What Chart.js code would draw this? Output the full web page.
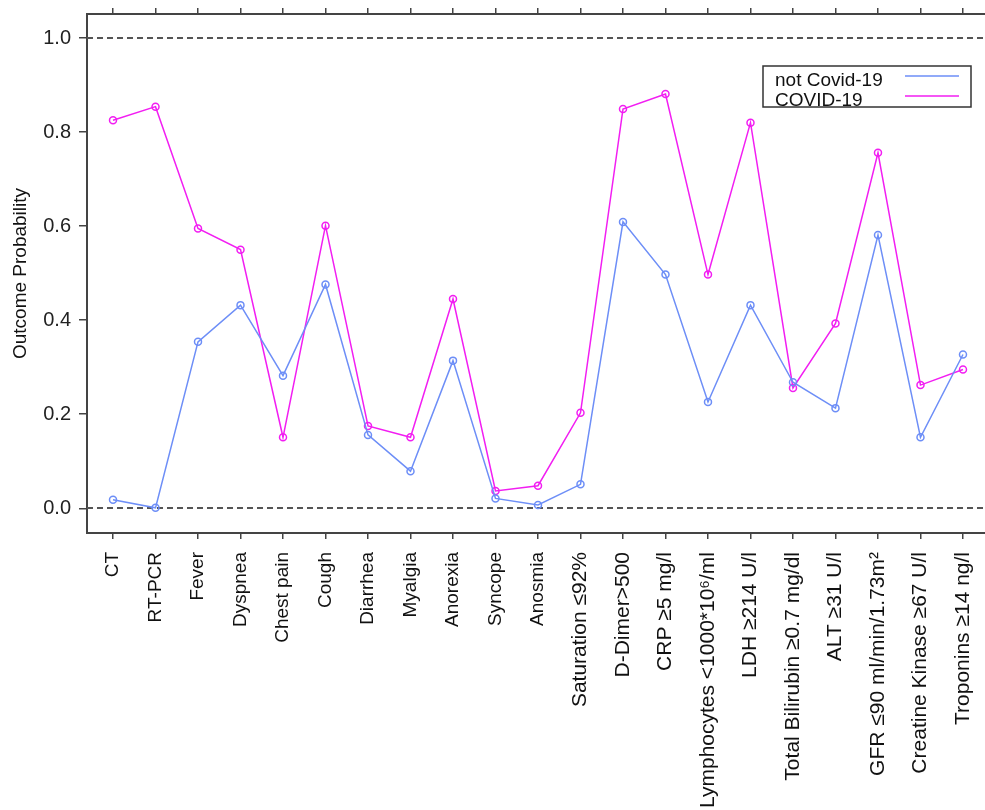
<!DOCTYPE html>
<html>
<head>
<meta charset="utf-8">
<script src="https://cdn.jsdelivr.net/npm/chart.js@4.4.1/dist/chart.umd.min.js"></script>
<style>
  body { margin: 0; background: #fff; }
  canvas { display: block; }
</style>
</head>
<body>
<canvas id="myChart" width="985" height="810"></canvas>
<script>
// kategori sumbu x
const categories = ['CT', 'RT-PCR', 'Fever', 'Dyspnea', 'Chest pain', 'Cough', 'Diarrhea', 'Myalgia',
    'Anorexia', 'Syncope', 'Anosmia', 'Saturation \u226492%', 'D-Dimer>500', 'CRP \u22655 mg/l',
    'Lymphocytes <1000*10\u2076/ml', 'LDH \u2265214 U/l', 'Total Bilirubin \u22650.7 mg/dl', 'ALT \u226531 U/l',
    'GFR \u226490 ml/min/1.73m\u00b2', 'Creatine Kinase \u226567 U/l', 'Troponins \u226514 ng/l'];

// nilai probabilitas
const notCovid = [0.018, 0.001, 0.354, 0.432, 0.282, 0.476, 0.156, 0.079, 0.314, 0.021, 0.007,
    0.051, 0.609, 0.497, 0.226, 0.432, 0.268, 0.213, 0.581, 0.151, 0.327];
const covid = [0.825, 0.854, 0.595, 0.550, 0.151, 0.601, 0.175, 0.151, 0.445, 0.037, 0.048,
    0.203, 0.849, 0.881, 0.497, 0.820, 0.256, 0.393, 0.756, 0.262, 0.295];

const yTicks = [0, 0.2, 0.4, 0.6, 0.8, 1.0];
const refLines = [0, 1];

const blue = '#6d8ef7';
const pink = '#f21ef2';
const frameColor = '#444';
const fontFamily = '"Liberation Sans", Arial, sans-serif';

// garis putus-putus di 0 dan 1
const refLinePlugin = {
    id: 'refLines',
    beforeDatasetsDraw(chart) {
        const { ctx, chartArea, scales } = chart;
        ctx.save();
        ctx.strokeStyle = '#555';
        ctx.lineWidth = 2;
        ctx.setLineDash([6, 4]);
        refLines.forEach(v => {
            const y = Math.round(scales.y.getPixelForValue(v));
            ctx.beginPath();
            ctx.moveTo(chartArea.left, y);
            ctx.lineTo(chartArea.right, y);
            ctx.stroke();
        });
        ctx.restore();
    }
};

// kotak legenda
const legendPlugin = {
    id: 'legendBox',
    afterDatasetsDraw(chart) {
        const { ctx } = chart;
        ctx.save();
        ctx.fillStyle = '#fff';
        ctx.fillRect(763, 66, 208, 41);
        ctx.strokeStyle = '#333';
        ctx.lineWidth = 1.5;
        ctx.strokeRect(763, 66, 208, 41);
        ctx.font = '19px ' + fontFamily;
        ctx.textBaseline = 'alphabetic';
        ctx.textAlign = 'left';
        chart.data.datasets.forEach((ds, i) => {
            const y = 86 + i * 20;
            ctx.fillStyle = '#111';
            ctx.fillText(ds.label, 775, y);
            ctx.strokeStyle = ds.borderColor;
            ctx.lineWidth = 1.5;
            ctx.beginPath();
            ctx.moveTo(905, y - 10);
            ctx.lineTo(959, y - 10);
            ctx.stroke();
        });
        ctx.restore();
    }
};

const setTicksX = axis => { axis.ticks = categories.map((_, i) => ({ value: i + 1 })); };
const fitX = h => s => { s.height = h; s.paddingLeft = 0; s.paddingRight = 0; };

const ctx = document.getElementById('myChart').getContext('2d');
new Chart(ctx, {
    type: 'line',
    data: {
        datasets: [{
            label: 'not Covid-19',
            data: notCovid.map((v, i) => ({ x: i + 1, y: v })),
            borderColor: blue,
            borderWidth: 1.5,
            pointRadius: 3.5,
            pointBorderWidth: 1.5,
            pointBackgroundColor: 'rgba(0,0,0,0)',
            pointBorderColor: blue,
            tension: 0
        }, {
            label: 'COVID-19',
            data: covid.map((v, i) => ({ x: i + 1, y: v })),
            borderColor: pink,
            borderWidth: 1.5,
            pointRadius: 3.5,
            pointBorderWidth: 1.5,
            pointBackgroundColor: 'rgba(0,0,0,0)',
            pointBorderColor: pink,
            tension: 0
        }]
    },
    options: {
        responsive: false,
        animation: false,
        devicePixelRatio: 1,
        layout: { padding: 0, autoPadding: false },
        plugins: {
            legend: { display: false },
            tooltip: { enabled: false }
        },
        scales: {
            x: {
                type: 'linear',
                position: 'bottom',
                min: 0.388,
                max: 21.518,
                afterBuildTicks: setTicksX,
                afterFit: fitX(277),
                grid: { drawOnChartArea: false, tickLength: 6, color: frameColor, lineWidth: 1.5 },
                border: { color: frameColor, width: 2 },
                ticks: {
                    minRotation: 90,
                    maxRotation: 90,
                    autoSkip: false,
                    padding: 13,
                    color: '#111',
                    // label lab (kanan) sedikit lebih besar seperti di gambar asli
                    font: c => ({ family: fontFamily, size: c.index >= 11 ? 21 : 19 }),
                    callback: v => categories[v - 1]
                }
            },
            x2: {
                type: 'linear',
                position: 'top',
                min: 0.388,
                max: 21.518,
                afterBuildTicks: setTicksX,
                afterFit: fitX(14),
                grid: { drawOnChartArea: false, tickLength: 6, color: frameColor, lineWidth: 1.5 },
                border: { color: frameColor, width: 2 },
                ticks: { display: false }
            },
            y: {
                type: 'linear',
                min: -0.0525,
                max: 1.051,
                afterBuildTicks: axis => { axis.ticks = yTicks.map(v => ({ value: v })); },
                afterFit: s => { s.width = 87; s.paddingTop = 0; s.paddingBottom = 0; },
                grid: { drawOnChartArea: false, tickLength: 8, color: frameColor, lineWidth: 1.5 },
                border: { color: frameColor, width: 2 },
                ticks: {
                    padding: 8,
                    color: '#222',
                    font: { family: fontFamily, size: 20 },
                    callback: v => v.toFixed(1)
                },
                title: {
                    display: true,
                    text: 'Outcome Probability',
                    color: '#111',
                    padding: { top: 9, bottom: 0 },
                    font: { family: fontFamily, size: 19 }
                }
            }
        }
    },
    plugins: [refLinePlugin, legendPlugin]
});
</script>
</body>
</html>
